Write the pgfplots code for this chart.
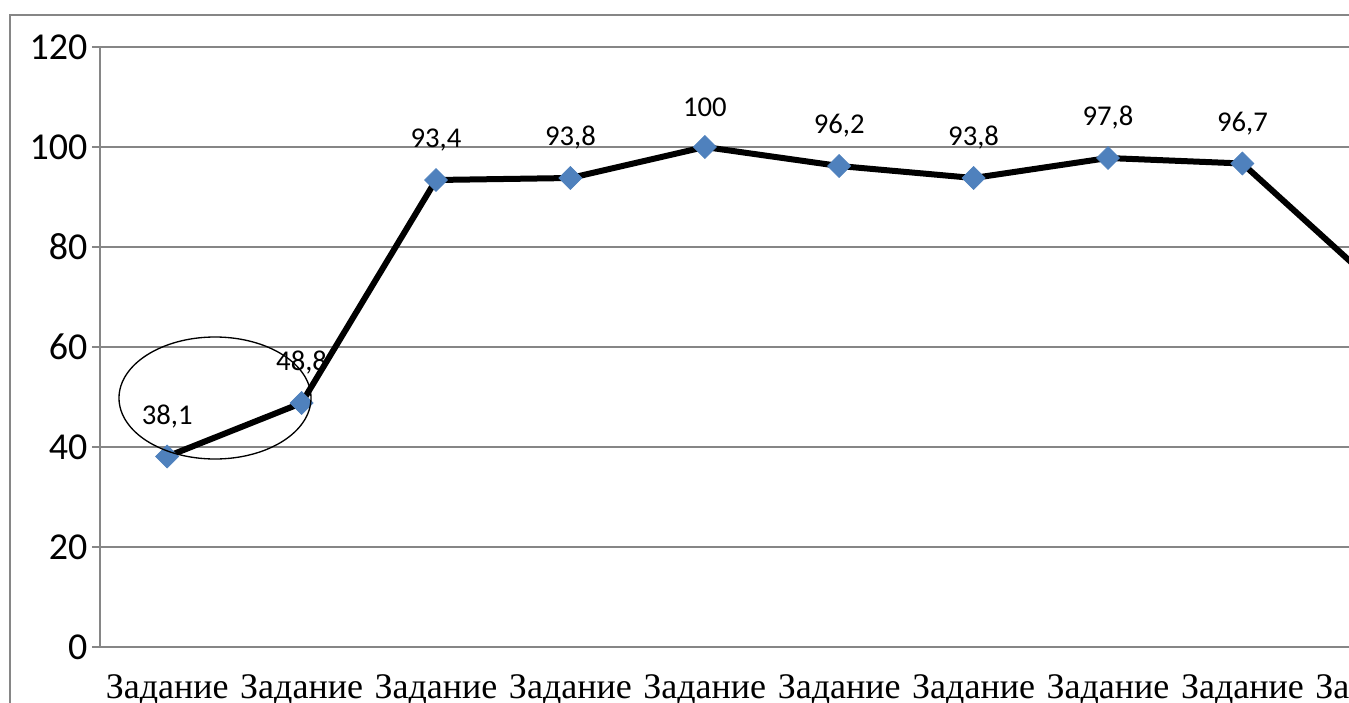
\documentclass[border=0pt]{standalone}
\usepackage{fontspec}
\setmainfont{Carlito}
\newfontfamily\timesfont{Liberation Serif}
\usepackage{pgfplots}
\pgfplotsset{compat=1.18}
\definecolor{gridgray}{RGB}{134,134,134}
\definecolor{markblue}{RGB}{79,129,189}
\newcommand\lblfont{\fontsize{21.5}{24}\selectfont}
\newcommand\yfont{\fontsize{28.5}{31}\selectfont}

\begin{document}
\begin{tikzpicture}[x=0.75pt,y=-0.75pt]
% picture is a crop of a larger chart: fix the page to 1349x703 px
\useasboundingbox (0,0) rectangle (1349,703);
\clip (0,0) rectangle (1349,703);
% chart area frame
\draw[gridgray, line width=1.5pt] (9.5,720) -- (9.5,14.5) -- (1360,14.5);
\begin{axis}[
    at={(75pt,-485.25pt)}, anchor=south west,
    scale only axis,
    width=1008pt, height=450pt,
    xmin=0.5, xmax=10.5,
    ymin=0, ymax=120,
    ytick={0,20,...,120},
    yticklabels={0,20,40,60,80,100,120},
    xtick={1,...,10},
    xticklabels={Задание\\1,Задание\\2,Задание\\3,Задание\\4,Задание\\5,
                 Задание\\6,Задание\\7,Задание\\8,Задание\\9,Задание\\10},
    minor xtick={0.5,1.5,...,10.5},
    axis x line*=bottom, axis y line*=left,
    axis line style={gridgray, line width=1pt},
    ymajorgrids, grid style={gridgray, line width=1pt},
    tick align=outside,
    major tick length=6pt, minor tick length=7.5pt,
    ytick style={gridgray, line width=1pt},
    xtick style={draw=none},
    minor x tick style={gridgray, line width=1pt},
    /pgf/number format/.cd, use comma, fixed, precision=1, assume math mode=true,
    /pgfplots/.cd,
    yticklabel style={font=\yfont, black},
    xticklabel style={font=\timesfont\fontsize{27}{40}\selectfont, align=center,
        yshift=-11.25pt},
    nodes near coords,
    every node near coord/.append style={font=\lblfont,
        anchor=center, yshift=30pt, black},
    clip=false,
]
\addplot[black, line width=4.5pt, mark=square*, mark size=6.1pt,
    mark options={rotate=45, fill=markblue, draw=markblue, line width=0.5pt}]
    coordinates {
    (1,38.1) (2,48.8) (3,93.4) (4,93.8) (5,100)
    (6,96.2) (7,93.8) (8,97.8) (9,96.7) (10,72.3)
};
\end{axis}
% hand-drawn ellipse round the first two tasks
\draw[black, line width=1pt] (215,398) ellipse [x radius=72pt, y radius=45.75pt];
\end{tikzpicture}
\end{document}
